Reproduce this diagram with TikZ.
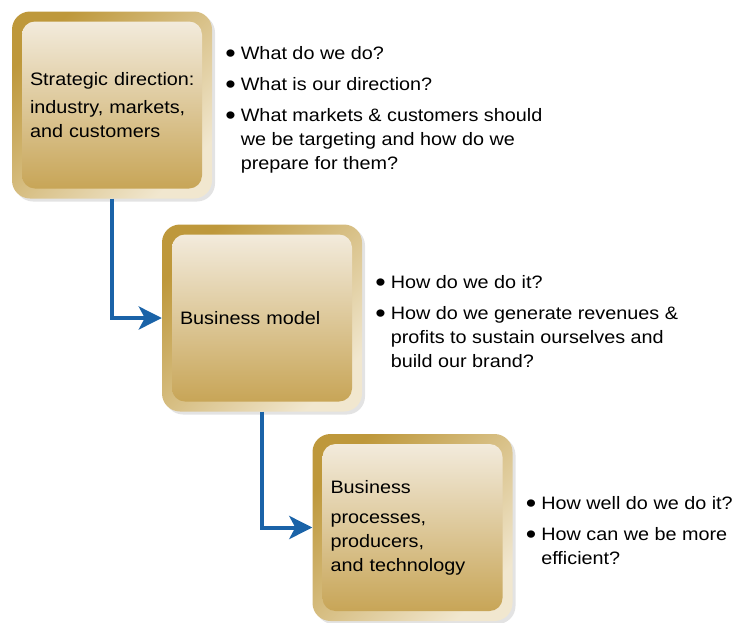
\documentclass[tikz,border=0pt]{standalone}
\usepackage{graphicx}
\usepackage{fontspec}
\setmainfont{Liberation Sans}[FakeStretch=1.1]
\usetikzlibrary{positioning,shadows,arrows.meta}
\definecolor{golddark}{HTML}{BE983B}
\definecolor{goldmid}{HTML}{D9C083}
\definecolor{goldlight}{HTML}{F1E7CF}
\definecolor{creamtop}{HTML}{F5EFE4}
\definecolor{creambottom}{HTML}{C5A14F}
\definecolor{flowblue}{HTML}{1A63A8}
\def\Dot{\raisebox{-3pt}{\scalebox{1.5}{\textbullet}}}
\def\Questions#1{\begin{tabular}{@{}l@{\hspace{5pt}}l@{}}#1\end{tabular}}

\begin{document}
\begin{tikzpicture}[x=1pt, y=-1pt, font=\fontsize{18}{24}\selectfont,
    goldbox/.style={rectangle, rounded corners=18pt, minimum width=200pt, minimum height=187pt,
        text width=164pt, inner xsep=18pt, align=left,
        top color=golddark, middle color=goldmid, bottom color=goldlight, shading angle=45,
        drop shadow={opacity=0.22, shadow xshift=3pt, shadow yshift=-3pt},
        path picture={\shade[top color=creamtop, bottom color=creambottom, rounded corners=13pt]
            ([shift={(10pt,-10pt)}]path picture bounding box.north west) rectangle
            ([shift={(-10pt,10pt)}]path picture bounding box.south east);}},
    qlist/.style={inner sep=0pt, yshift=-5pt},
    flow/.style={flowblue, line width=4pt, -{Stealth[length=23pt, width=23pt, inset=6pt]}}]
    \useasboundingbox (0, 0) rectangle (736, 622);

    % the three levels
    \node[goldbox] (strat) at (112, 105) {\mbox{Strategic direction:}\\[4pt] industry, markets,\\ and customers};
    \node[goldbox] (model) at (262, 318) {Business model};
    \node[goldbox] (proc) at (412.5, 527.5) {Business\\[6pt] processes,\\ producers,\\ and technology};

    % questions beside each level
    \node[qlist, right=13pt of strat] (stratq) {\Questions{%
        \Dot & What do we do?\\[7pt]
        \Dot & What is our direction?\\[7pt]
        \Dot & What markets \& customers should\\
             & we be targeting and how do we\\
             & prepare for them?}};
    \node[qlist, right=13pt of model] (modelq) {\Questions{%
        \Dot & How do we do it?\\[7pt]
        \Dot & How do we generate revenues \&\\
             & profits to sustain ourselves and\\
             & build our brand?}};
    \node[qlist, right=13pt of proc] (procq) {\Questions{%
        \Dot & How well do we do it?\\[7pt]
        \Dot & How can we be more\\
             & efficient?}};

    % flow from level to level
    \draw[flow] (strat.south) |- (model.west);
    \draw[flow] (model.south) |- (proc.west);
\end{tikzpicture}
\end{document}
